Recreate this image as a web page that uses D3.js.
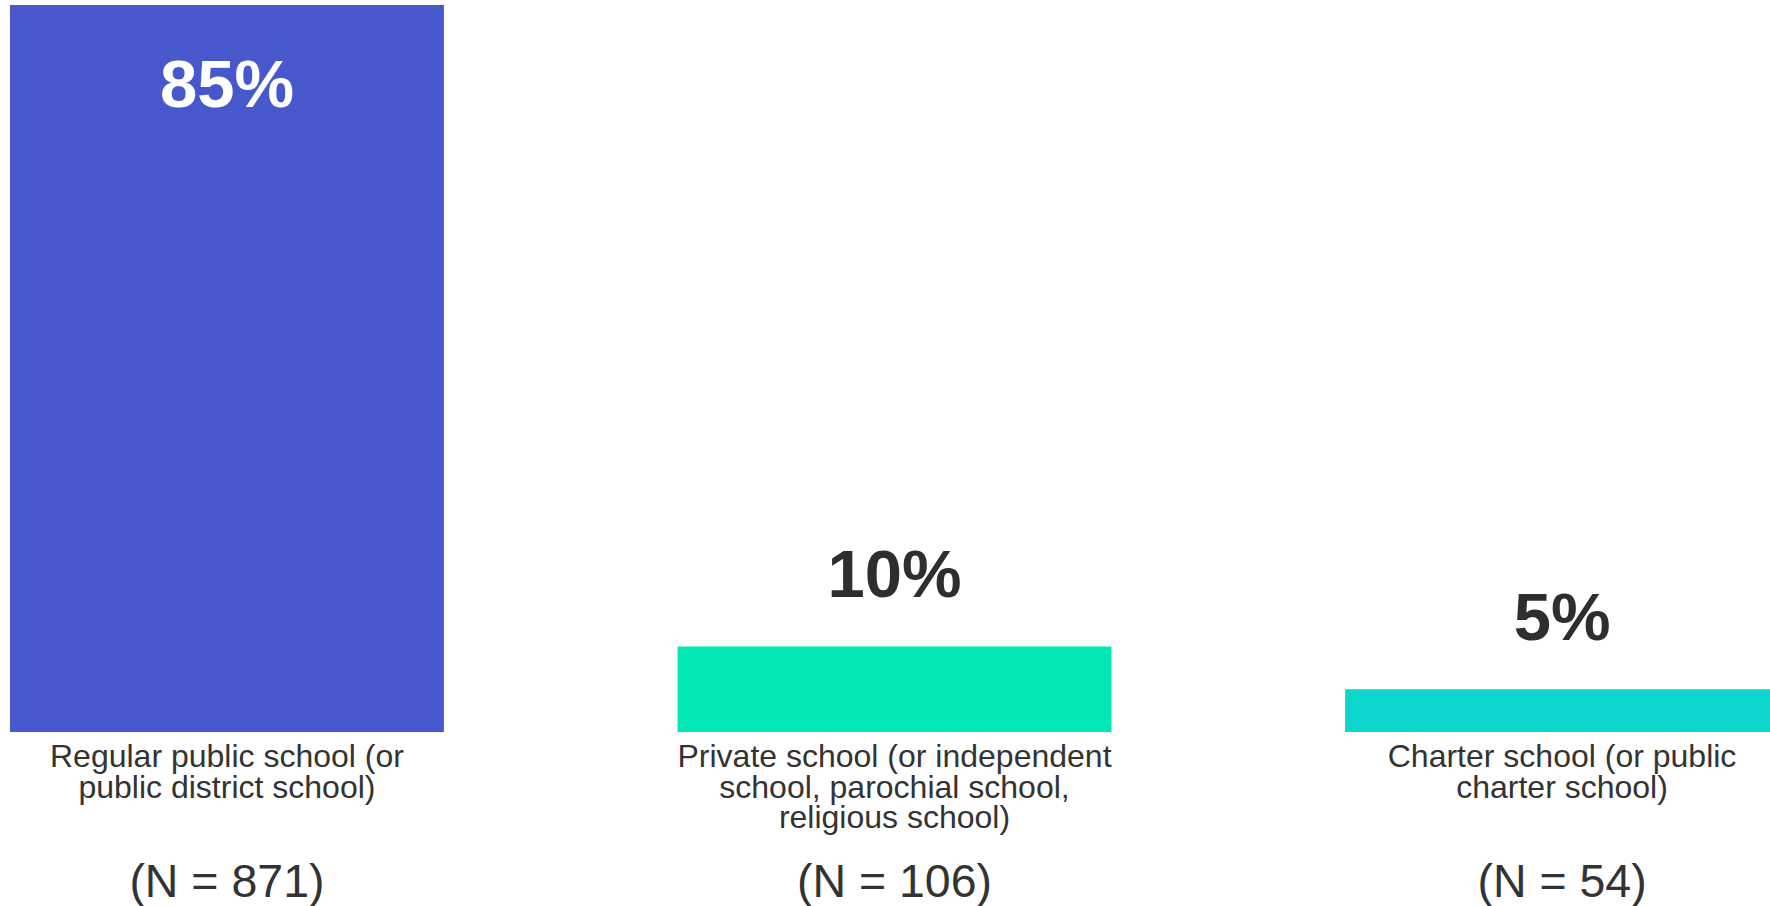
<!DOCTYPE html>
<html>
<head>
<meta charset="utf-8">
<script src="https://cdn.jsdelivr.net/npm/d3@7"></script>
<style>
  html, body { margin: 0; padding: 0; background: #ffffff; overflow: hidden; }
  svg { display: block; font-family: "Liberation Sans", Arial, sans-serif; }
</style>
</head>
<body>
<svg id="chart" width="1770" height="906"></svg>
<script>
const categories = ["Regular public school", "Private school", "Charter school"];
const labelLines = [
  ["Regular public school (or", "public district school)"],
  ["Private school (or independent", "school, parochial school,", "religious school)"],
  ["Charter school (or public", "charter school)"]
];
const values = [85, 10, 5];
const sampleSizes = ["(N = 871)", "(N = 106)", "(N = 54)"];
const colors = ["#4758CD", "#02E8B4", "#0FD6CC"];

const svg = d3.select("#chart");

const x = d3.scaleBand()
  .domain(categories)
  .range([10, 1779])
  .paddingInner(0.35)
  .paddingOuter(0);

const y = d3.scaleLinear()
  .domain([0, 85])
  .range([732, 5]);

const g = svg.append("g");

g.selectAll("rect.bar")
  .data(values)
  .enter().append("rect")
  .attr("class", "bar")
  .attr("x", (d, i) => x(categories[i]))
  .attr("y", d => y(d))
  .attr("width", x.bandwidth())
  .attr("height", d => y(0) - y(d))
  .attr("fill", (d, i) => colors[i]);

// value labels
g.selectAll("text.value")
  .data(values)
  .enter().append("text")
  .attr("class", "value")
  .attr("x", (d, i) => x(categories[i]) + x.bandwidth() / 2)
  .attr("y", d => d > 50 ? y(d) + 102 : y(d) - 49)
  .attr("text-anchor", "middle")
  .attr("font-size", 67)
  .attr("font-weight", "bold")
  .attr("fill", d => d > 50 ? "#ffffff" : "#2e2e2e")
  .text(d => d + "%");

// category labels
const cat = g.selectAll("text.cat")
  .data(labelLines)
  .enter().append("text")
  .attr("class", "cat")
  .attr("x", (d, i) => x(categories[i]) + x.bandwidth() / 2)
  .attr("y", y(0) + 35)
  .attr("text-anchor", "middle")
  .attr("font-size", 32)
  .attr("fill", "#333333");

cat.each(function(lines, i) {
  const t = d3.select(this);
  const cx = x(categories[i]) + x.bandwidth() / 2;
  lines.forEach((line, j) => {
    t.append("tspan")
      .attr("x", cx)
      .attr("dy", j === 0 ? 0 : 30.5)
      .text(line);
  });
});

// sample size labels
g.selectAll("text.n")
  .data(sampleSizes)
  .enter().append("text")
  .attr("class", "n")
  .attr("x", (d, i) => x(categories[i]) + x.bandwidth() / 2)
  .attr("y", 897)
  .attr("text-anchor", "middle")
  .attr("font-size", 46.5)
  .attr("fill", "#333333")
  .text(d => d);
</script>
</body>
</html>
